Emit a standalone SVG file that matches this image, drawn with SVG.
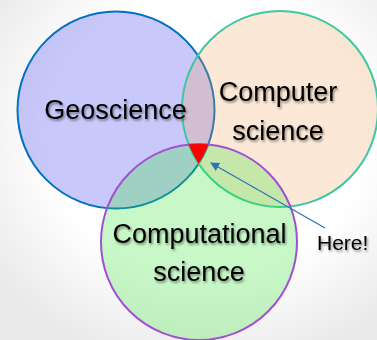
<svg xmlns="http://www.w3.org/2000/svg" width="377" height="340" viewBox="0 0 377 340">
<defs>
<radialGradient id="bg" cx="55%" cy="40%" r="70%">
<stop offset="0.6" stop-color="#ffffff"/>
<stop offset="1" stop-color="#e9e9e9"/>
</radialGradient>
<filter id="sh" x="-10%" y="-30%" width="130%" height="170%">
<feDropShadow dx="1.2" dy="1.8" stdDeviation="1.2" flood-color="#000" flood-opacity="0.45"/>
</filter>
<clipPath id="cGeo"><circle cx="116" cy="110" r="98.5"/></clipPath>
<clipPath id="cCs"><circle cx="280" cy="109" r="98"/></clipPath>
<marker id="ah" viewBox="0 0 10 10" refX="9" refY="5" markerWidth="9" markerHeight="9" markerUnits="userSpaceOnUse" orient="auto">
<path d="M0,0 L10,5 L0,10 z" fill="#2E75B6"/>
</marker>
<style>
.lbl{font-family:"Liberation Sans",Arial,sans-serif;font-size:27px;fill:#000;text-anchor:middle;filter:url(#sh)}
.here{font-family:"Liberation Sans",Arial,sans-serif;font-size:21px;fill:#000;filter:url(#sh)}
</style>
</defs>
<rect width="377" height="340" fill="url(#bg)"/>
<g id="geoscience">
<circle cx="116" cy="110" r="98.5" fill="rgb(98,98,240)" fill-opacity="0.35" stroke="#0070C0" stroke-width="2"/>
</g>
<g id="computer-science">
<circle cx="280" cy="109" r="98" fill="rgb(242,159,84)" fill-opacity="0.24" stroke="#3CC8A0" stroke-width="2"/>
</g>
<g id="computational-science">
<circle cx="199" cy="242" r="98" fill="rgb(52,230,52)" fill-opacity="0.27" stroke="#A050D0" stroke-width="2"/>
</g>
<g id="intersection">
<g clip-path="url(#cGeo)"><g clip-path="url(#cCs)"><circle cx="199" cy="242" r="98" fill="#FF0000"/></g></g>
</g>
<g id="labels">
<text class="lbl" x="115.5" y="119">Geoscience</text>
<text class="lbl" x="278" y="101">Computer</text>
<text class="lbl" x="278" y="140">science</text>
<text class="lbl" x="199.5" y="243">Computational</text>
<text class="lbl" x="199" y="281">science</text>
</g>
<g id="connectors">
<line x1="325" y1="228" x2="211" y2="163" stroke="#2E75B6" stroke-width="1.3" marker-end="url(#ah)"/>
</g>
<g id="here">
<text class="here" x="317" y="250">Here!</text>
</g>
</svg>
